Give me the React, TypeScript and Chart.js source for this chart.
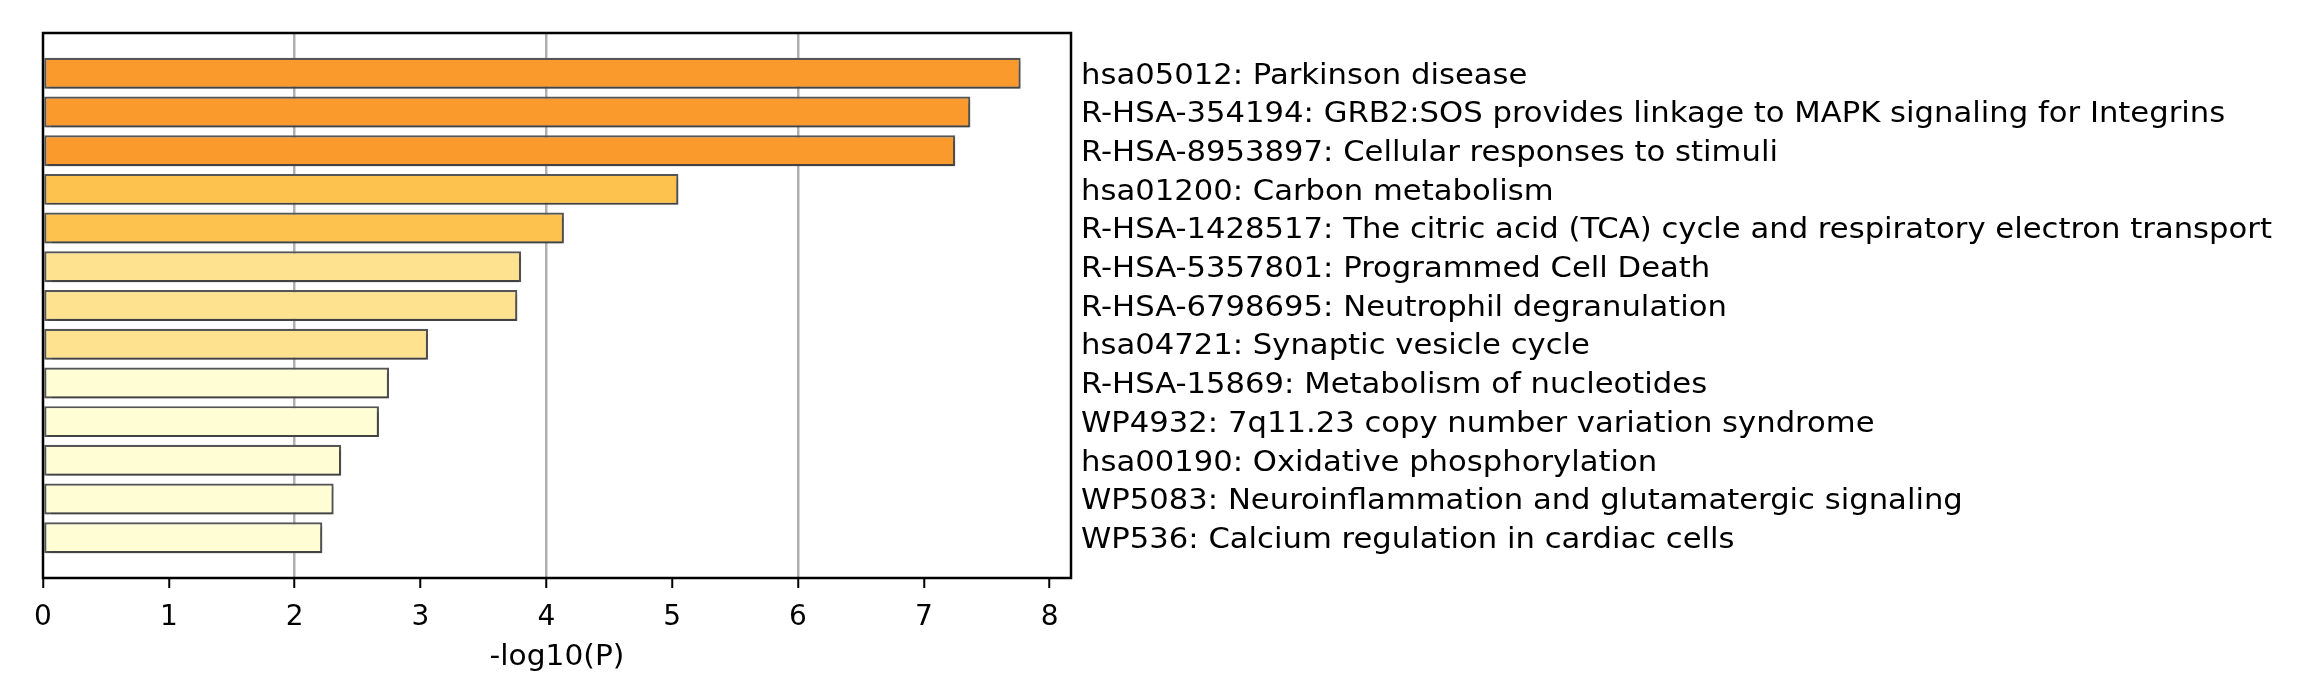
import React, { useEffect, useRef } from "react";
import { Chart, registerables } from "chart.js";

Chart.register(...registerables);

const terms: string[] = [
  "hsa05012: Parkinson disease",
  "R-HSA-354194: GRB2:SOS provides linkage to MAPK signaling for Integrins",
  "R-HSA-8953897: Cellular responses to stimuli",
  "hsa01200: Carbon metabolism",
  "R-HSA-1428517: The citric acid (TCA) cycle and respiratory electron transport",
  "R-HSA-5357801: Programmed Cell Death",
  "R-HSA-6798695: Neutrophil degranulation",
  "hsa04721: Synaptic vesicle cycle",
  "R-HSA-15869: Metabolism of nucleotides",
  "WP4932: 7q11.23 copy number variation syndrome",
  "hsa00190: Oxidative phosphorylation",
  "WP5083: Neuroinflammation and glutamatergic signaling",
  "WP536: Calcium regulation in cardiac cells",
];

const logP: number[] = [7.77, 7.37, 7.25, 5.05, 4.14, 3.8, 3.77, 3.06, 2.75, 2.67, 2.37, 2.31, 2.22];

const barColors: string[] = [
  "#fb9a2c", "#fb9a2c", "#fb9a2c",
  "#fdc14e", "#fdc14e",
  "#fee28f", "#fee28f", "#fee28f",
  "#fffdd3", "#fffdd3", "#fffdd3", "#fffdd3", "#fffdd3",
];

const xTicks: number[] = [0, 1, 2, 3, 4, 5, 6, 7, 8];
const gridValues: number[] = [2, 4, 6];
const xTitle = "-log10(P)";

const FONT = "'DejaVu Sans', 'Liberation Sans', sans-serif";

function stretchText(scale: any, labelStretch: number, titleStretch: number, nudgeY: number) {
  if (scale.__stretched) return;
  scale.__stretched = true;
  scale.drawLabels = function (area: any) {
    const ctx = this.ctx;
    const items = this.getLabelItems(area);
    for (const item of items) {
      const o = item.options;
      ctx.save();
      ctx.font = item.font.string;
      ctx.fillStyle = o.color;
      ctx.textAlign = o.textAlign;
      ctx.textBaseline = o.textBaseline;
      ctx.translate(o.translation[0], o.translation[1] + nudgeY);
      if (o.rotation) ctx.rotate(o.rotation);
      ctx.scale(labelStretch, 1);
      const lines = Array.isArray(item.label) ? item.label : [item.label];
      let y = item.textOffset;
      for (const line of lines) {
        ctx.fillText(String(line), 0, y);
        y += item.font.lineHeight;
      }
      ctx.restore();
    }
  };
  const origTitle = scale.drawTitle.bind(scale);
  scale.drawTitle = function () {
    const ctx = this.ctx;
    const cx = (this.left + this.right) / 2;
    ctx.save();
    ctx.translate(cx, 0);
    ctx.scale(titleStretch, 1);
    ctx.translate(-cx, 0);
    origTitle();
    ctx.restore();
  };
}

export default function App() {
  const ref = useRef<HTMLCanvasElement | null>(null);

  useEffect(() => {
    document.body.style.margin = "0";
    const canvas = ref.current;
    if (!canvas) return;

    const yMin = -1.04;
    const yMax = terms.length - 1 + 1.04;
    const indexTicks = (axis: any) => {
      axis.ticks = terms.map((_, i) => ({ value: i }));
    };

    const stretchPlugin = {
      id: "stretchText",
      afterLayout(chart: any) {
        stretchText(chart.scales.x, 1.0, 1.06, 0);
        stretchText(chart.scales.y2, 1.095, 1, 3);
      },
    };

    const shadowPlugin = {
      id: "barShadow",
      beforeDatasetDraw(chart: any) {
        const ctx = chart.ctx;
        ctx.save();
        ctx.shadowColor = "rgba(0,0,0,0.22)";
        ctx.shadowOffsetX = 2;
        ctx.shadowOffsetY = 4;
        ctx.shadowBlur = 1.5;
      },
      afterDatasetDraw(chart: any) {
        chart.ctx.restore();
      },
    };

    const framePlugin = {
      id: "frame",
      afterDraw(chart: any) {
        const { ctx, chartArea } = chart;
        ctx.save();
        ctx.strokeStyle = "#000";
        ctx.lineWidth = 2.5;
        ctx.strokeRect(chartArea.left, chartArea.top, chartArea.right - chartArea.left, chartArea.bottom - chartArea.top);
        ctx.restore();
      },
    };

    const chart = new Chart(canvas, {
      type: "bar",
      data: {
        datasets: [
          {
            data: logP.map((v, i) => ({ x: v, y: i })),
            backgroundColor: barColors,
            borderColor: "#555555",
            borderWidth: 2.2,
            borderSkipped: false,
            categoryPercentage: 1,
            barPercentage: 0.8,
            yAxisID: "y",
          },
        ],
      },
      options: {
        indexAxis: "y",
        responsive: false,
        animation: false,
        devicePixelRatio: 1,
        layout: { padding: { left: 43, top: 33, right: 0, bottom: 0 } },
        plugins: {
          legend: { display: false },
          tooltip: { enabled: false },
          title: { display: false },
        },
        scales: {
          x: {
            type: "linear",
            position: "bottom",
            min: 0,
            max: 8.17,
            offset: false,
            afterBuildTicks: (axis: any) => {
              axis.ticks = xTicks.map((v) => ({ value: v }));
            },
            afterFit: (scale: any) => {
              scale.height = 119;
            },
            border: { display: false },
            grid: {
              offset: false,
              color: (ctx: any) =>
                ctx.tick && gridValues.includes(ctx.tick.value) ? "#b0b0b0" : "rgba(0,0,0,0)",
              lineWidth: 2.5,
              drawTicks: true,
              tickColor: "#000",
              tickLength: 10,
              tickWidth: 2,
            },
            ticks: {
              color: "#000",
              font: { family: FONT, size: 28 },
              padding: 13,
              maxRotation: 0,
              autoSkip: false,
            },
            title: {
              display: true,
              text: xTitle,
              color: "#000",
              font: { family: FONT, size: 28 },
              padding: { top: 0, bottom: 22 },
            },
          },
          y: {
            type: "linear",
            display: false,
            reverse: true,
            offset: false,
            grid: { offset: false },
            min: yMin,
            max: yMax,
            afterBuildTicks: indexTicks,
          },
          y2: {
            type: "linear",
            position: "right",
            reverse: true,
            offset: false,
            min: yMin,
            max: yMax,
            afterBuildTicks: indexTicks,
            afterFit: (scale: any) => {
              scale.width = 2305 - 1071;
            },
            border: { display: false },
            grid: { display: false, drawTicks: false, offset: false },
            ticks: {
              color: "#000",
              font: { family: FONT, size: 28 },
              padding: 10,
              autoSkip: false,
              callback: (value: any) => terms[Number(value)] ?? "",
            },
          },
        },
      },
      plugins: [stretchPlugin, shadowPlugin, framePlugin],
    } as any);

    return () => {
      chart.destroy();
    };
  }, []);

  return <canvas ref={ref} width={2305} height={697} style={{ display: "block", width: 2305, height: 697 }} />;
}
